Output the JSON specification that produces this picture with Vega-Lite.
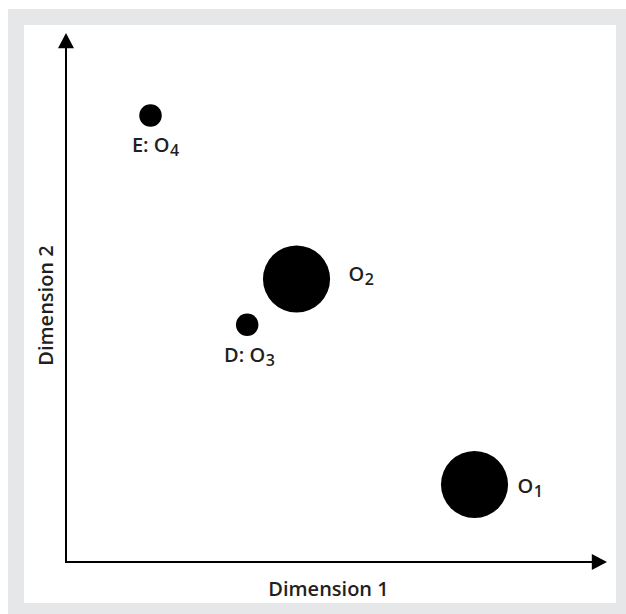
{
  "$schema": "https://vega.github.io/schema/vega-lite/v6.json",
  "width": 608,
  "height": 594,
  "autosize": {"type": "none"},
  "padding": {"left": 16, "top": 17, "right": 2, "bottom": 3},
  "background": "white",
  "view": {"fill": "white", "stroke": "#e6e7e8", "strokeWidth": 16},
  "config": {"font": "Open Sans"},
  "datasets": {
    "points": [
      {"name": "E", "dim1": 1.562, "dim2": 8.44, "weight": 1, "main": "E: O", "sub": "4"},
      {"name": "O2", "dim1": 4.261, "dim2": 5.35, "weight": 8.9, "main": "O", "sub": "2"},
      {"name": "D", "dim1": 3.349, "dim2": 4.486, "weight": 1, "main": "D: O", "sub": "3"},
      {"name": "O1", "dim1": 7.551, "dim2": 1.465, "weight": 8.9, "main": "O", "sub": "1"}
    ],
    "axes": [
      {"dim1": 0, "dim2": 0, "dim1_end": 9.87, "dim2_end": 0},
      {"dim1": 0, "dim2": 0, "dim1_end": 0, "dim2_end": 9.87}
    ],
    "arrows": [
      {"dim1": 9.867, "dim2": 0, "dir": "right"},
      {"dim1": 0, "dim2": 9.864, "dir": "up"}
    ]
  },
  "data": {"name": "points"},
  "encoding": {
    "x": {
      "field": "dim1", "type": "quantitative",
      "scale": {"domain": [-0.9242, 10.3142], "nice": false, "zero": false},
      "axis": {"title": "Dimension 1", "domain": false, "ticks": false, "labels": false, "grid": false,
        "titleX": 312, "titleY": -16, "titleAlign": "center", "titleBaseline": "alphabetic",
        "titleFontSize": 20, "titleFontWeight": 600, "titleColor": "#231f20", "titleFont": "Open Sans"}
    },
    "y": {
      "field": "dim2", "type": "quantitative",
      "scale": {"domain": [-0.9263, 10.3025], "nice": false, "zero": false},
      "axis": {"title": "Dimension 2", "domain": false, "ticks": false, "labels": false, "grid": false,
        "titleX": 36, "titleY": 288, "titleAngle": 270, "titleAlign": "center", "titleBaseline": "alphabetic",
        "titleFontSize": 20, "titleFontWeight": 600, "titleColor": "#231f20", "titleFont": "Open Sans"}
    }
  },
  "layer": [
    {
      "data": {"name": "axes"},
      "mark": {"type": "rule", "color": "black", "strokeWidth": 2, "strokeCap": "square"},
      "encoding": {
        "x2": {"field": "dim1_end"},
        "y2": {"field": "dim2_end"}
      }
    },
    {
      "data": {"name": "arrows"},
      "mark": {"type": "point", "filled": true, "color": "black", "opacity": 1, "size": 256, "strokeWidth": 0},
      "encoding": {
        "shape": {"field": "dir", "type": "nominal", "legend": null,
          "scale": {"domain": ["right", "up"], "range": ["M-1,-1L0.9,0L-1,1Z", "M-1,1L0,-0.9L1,1Z"]}}
      }
    },
    {
      "mark": {"type": "circle", "color": "black", "opacity": 1, "strokeWidth": 0},
      "encoding": {
        "size": {"field": "weight", "type": "quantitative", "legend": null,
          "scale": {"domain": [0, 10], "range": [0, 5060]}}
      }
    },
    {
      "transform": [{"filter": "datum.name === 'E'"}],
      "mark": {"type": "text", "align": "right", "baseline": "alphabetic", "dx": 19, "dy": 36.5, "fontSize": 20, "fontWeight": 600, "color": "#231f20"},
      "encoding": {"text": {"field": "main"}}
    },
    {
      "transform": [{"filter": "datum.name === 'E'"}],
      "mark": {"type": "text", "align": "left", "baseline": "alphabetic", "dx": 19.5, "dy": 40, "fontSize": 16, "fontWeight": 600, "color": "#231f20"},
      "encoding": {"text": {"field": "sub"}}
    },
    {
      "transform": [{"filter": "datum.name === 'D'"}],
      "mark": {"type": "text", "align": "right", "baseline": "alphabetic", "dx": 18, "dy": 37, "fontSize": 20, "fontWeight": 600, "color": "#231f20"},
      "encoding": {"text": {"field": "main"}}
    },
    {
      "transform": [{"filter": "datum.name === 'D'"}],
      "mark": {"type": "text", "align": "left", "baseline": "alphabetic", "dx": 18.5, "dy": 41, "fontSize": 16, "fontWeight": 600, "color": "#231f20"},
      "encoding": {"text": {"field": "sub"}}
    },
    {
      "transform": [{"filter": "datum.name === 'O2'"}],
      "mark": {"type": "text", "align": "right", "baseline": "alphabetic", "dx": 67.7, "dy": 2, "fontSize": 20, "fontWeight": 600, "color": "#231f20"},
      "encoding": {"text": {"field": "main"}}
    },
    {
      "transform": [{"filter": "datum.name === 'O2'"}],
      "mark": {"type": "text", "align": "left", "baseline": "alphabetic", "dx": 68.2, "dy": 6, "fontSize": 16, "fontWeight": 600, "color": "#231f20"},
      "encoding": {"text": {"field": "sub"}}
    },
    {
      "transform": [{"filter": "datum.name === 'O1'"}],
      "mark": {"type": "text", "align": "right", "baseline": "alphabetic", "dx": 58.7, "dy": 8.5, "fontSize": 20, "fontWeight": 600, "color": "#231f20"},
      "encoding": {"text": {"field": "main"}}
    },
    {
      "transform": [{"filter": "datum.name === 'O1'"}],
      "mark": {"type": "text", "align": "left", "baseline": "alphabetic", "dx": 59.2, "dy": 12.5, "fontSize": 16, "fontWeight": 600, "color": "#231f20"},
      "encoding": {"text": {"field": "sub"}}
    }
  ]
}
